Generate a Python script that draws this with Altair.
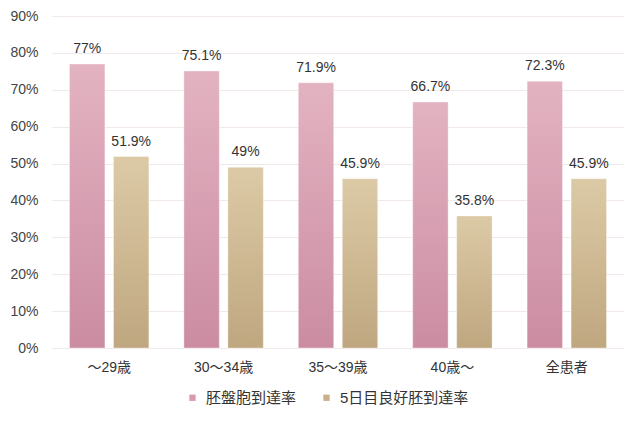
import altair as alt
import pandas as pd

categories = ["～29歳", "30～34歳", "35～39歳", "40歳～", "全患者"]
series_names = ["胚盤胞到達率", "5日目良好胚到達率"]
blastocyst = [77, 75.1, 71.9, 66.7, 72.3]
good_day5 = [51.9, 49, 45.9, 35.8, 45.9]
y_ticks = [0, 10, 20, 30, 40, 50, 60, 70, 80, 90]

rows = []
for c, a, b in zip(categories, blastocyst, good_day5):
    rows.append({"cat": c, "series": series_names[0], "value": a, "label": f"{a:g}%"})
    rows.append({"cat": c, "series": series_names[1], "value": b, "label": f"{b:g}%"})
df = pd.DataFrame(rows)

FONT = "Liberation Sans, Noto Sans CJK JP"

x_enc = alt.X("cat:N", sort=categories, title=None,
              scale=alt.Scale(paddingInner=0.306, paddingOuter=0.153),
              axis=alt.Axis(labelAngle=0, ticks=False, domain=False, labelPadding=12,
                            labelFontSize=14, labelColor="#333333", labelFont=FONT))
xo_enc = alt.XOffset("series:N", sort=series_names,
                     scale=alt.Scale(domain=series_names, paddingInner=0.195))
y_enc = alt.Y("value:Q", title=None,
              scale=alt.Scale(domain=[0, 90], nice=False),
              axis=alt.Axis(values=y_ticks, labelExpr="datum.value + '%'", ticks=False,
                            domain=False, labelPadding=14, labelFontSize=14,
                            labelColor="#444444", labelFont=FONT,
                            gridColor="#f1e8e8", gridWidth=1.2))

pink_grad = alt.Gradient(gradient="linear", x1=0, x2=0, y1=0, y2=1,
                         stops=[alt.GradientStop(offset=0, color="#e3b3c1"),
                                alt.GradientStop(offset=1, color="#cb8ca2")])
tan_grad = alt.Gradient(gradient="linear", x1=0, x2=0, y1=0, y2=1,
                        stops=[alt.GradientStop(offset=0, color="#dccaa6"),
                               alt.GradientStop(offset=1, color="#bfa780")])

base = alt.Chart(df)

bars1 = base.transform_filter(alt.datum.series == series_names[0]).mark_bar(
    fill=pink_grad, stroke="#ffffff", strokeOpacity=0.35, strokeWidth=1
).encode(x=x_enc, xOffset=xo_enc, y=y_enc)

bars2 = base.transform_filter(alt.datum.series == series_names[1]).mark_bar(
    fill=tan_grad, stroke="#ffffff", strokeOpacity=0.35, strokeWidth=1
).encode(x=x_enc, xOffset=xo_enc, y=y_enc)

legend_layer = base.mark_square(opacity=0).encode(
    x=x_enc, xOffset=xo_enc, y=y_enc,
    color=alt.Color("series:N", sort=series_names,
                    scale=alt.Scale(domain=series_names, range=["#d99aaf", "#c9b08a"]),
                    legend=alt.Legend(title=None, orient="none", direction="horizontal",
                                      legendX=133, legendY=374,
                                      symbolType="square", symbolSize=40,
                                      symbolOpacity=1, symbolStrokeWidth=0,
                                      labelFontSize=15, labelColor="#333333",
                                      labelFont=FONT, columnPadding=22, labelOffset=6))
)

texts = base.mark_text(baseline="alphabetic", dy=-11, fontSize=14, color="#333333",
                       font=FONT).encode(x=x_enc, xOffset=xo_enc, y=y_enc, text="label:N")

chart = alt.layer(bars1, bars2, legend_layer, texts).properties(
    width=572, height=332,
    autosize=alt.AutoSizeParams(type="none"),
    padding={"left": 52, "top": 16, "right": 16, "bottom": 77},
    background="#ffffff"
).configure_view(stroke=None)

chart.save("out.html", embed_options={"renderer": "svg", "actions": False})
